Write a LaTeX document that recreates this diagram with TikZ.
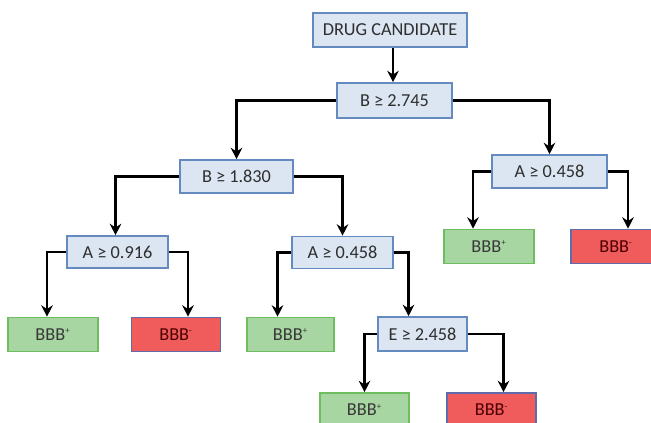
\documentclass[tikz,border=0pt]{standalone}
\usepackage{fontspec}
\setmainfont{Carlito}
\usepackage{xcolor}
\usepackage{tikz}
\usetikzlibrary{arrows.meta}

\definecolor{testfill}{RGB}{220,230,243}
\definecolor{testline}{RGB}{100,138,192}
\definecolor{plusfill}{RGB}{168,214,162}
\definecolor{plusline}{RGB}{110,190,95}
\definecolor{minusfill}{RGB}{240,92,92}
\definecolor{minusline}{RGB}{95,108,172}

\tikzset{
    testbox/.style={draw=testline, fill=testfill, line width=0.9pt, text=black!82,
        font=\fontsize{10.4}{12}\selectfont, minimum height=0.66cm, inner sep=0pt},
    plusbox/.style={draw=plusline, fill=plusfill, line width=0.9pt, text=black!78,
        font=\fontsize{10.4}{12}\selectfont, minimum width=1.8cm, minimum height=0.68cm, inner sep=0pt},
    minusbox/.style={draw=minusline, fill=minusfill, line width=0.9pt, text=red!30!black,
        font=\fontsize{10.4}{12}\selectfont, minimum width=1.78cm, minimum height=0.68cm, inner sep=0pt},
    branch/.style={line width=1.2pt, -{Stealth[length=6.5pt, width=6.5pt]}}
}

\begin{document}
\begin{tikzpicture}[x=0.02cm, y=-0.02cm]
    \useasboundingbox (0, 0) rectangle (651, 422);
    \clip (0, 0) rectangle (651, 422);
    \node [testbox, minimum width=3.08cm, minimum height=0.68cm] (drug) at (390, 30) {DRUG CANDIDATE};
    \node [testbox, minimum width=2.3cm, minimum height=0.7cm] (b2745) at (394.5, 100.5) {B ≥ 2.745};
    \node [testbox, minimum width=2.26cm] (b1830) at (236.5, 176.5) {B ≥ 1.830};
    \node [testbox, minimum width=2.3cm] (a0458r) at (549.5, 171.5) {A ≥ 0.458};
    \node [testbox, minimum width=2.02cm, minimum height=0.64cm] (a0916) at (117.5, 252) {A ≥ 0.916};
    \node [testbox, minimum width=2.02cm, minimum height=0.64cm] (a0458m) at (342.5, 252.5) {A ≥ 0.458};
    \node [testbox, minimum width=1.78cm, minimum height=0.68cm] (e2458) at (422.5, 334) {E ≥ 2.458};
    \node [plusbox] (plusa) at (53, 334.5) {BBB\textsuperscript{\tiny+}};
    \node [minusbox] (minusa) at (176, 334.5) {BBB\textsuperscript{\tiny-}};
    \node [plusbox, minimum width=1.74cm] (plusb) at (290.5, 334.5) {BBB\textsuperscript{\tiny+}};
    \node [plusbox] (plusd) at (489, 246.5) {BBB\textsuperscript{\tiny+}};
    \node [minusbox, minimum width=1.8cm] (minusd) at (616, 246.5) {BBB\textsuperscript{\tiny-}};
    \node [plusbox, minimum width=1.78cm] (plusc) at (364.5, 410) {BBB\textsuperscript{\tiny+}};
    \node [minusbox] (minusc) at (491.5, 410) {BBB\textsuperscript{\tiny-}};

    \draw [branch] ([xshift=0.06cm]drug.south) -- ([xshift=0.06cm]drug.south |- b2745.north);
    \draw [branch] (b2745.west) -| (b1830.north);
    \draw [branch] (b2745.east) -| (a0458r.north);
    \draw [branch] (b1830.west) -| ([xshift=-0.04cm]a0916.north);
    \draw [branch] (b1830.east) -| (a0458m.north);
    \draw [branch] (a0916.west) -| ([xshift=-0.12cm]plusa.north);
    \draw [branch] (a0916.east) -| ([xshift=0.24cm]minusa.north);
    \draw [branch] (a0458m.west) -| ([xshift=-0.26cm]plusb.north);
    \draw [branch] (a0458m.east) -| ([xshift=-0.28cm]e2458.north);
    \draw [branch] (e2458.west) -| (plusc.north);
    \draw [branch] (e2458.east) -| ([xshift=0.24cm]minusc.north);
    \draw [branch] (a0458r.west) -| ([xshift=-0.32cm]plusd.north);
    \draw [branch] (a0458r.east) -| ([xshift=0.24cm]minusd.north);

\end{tikzpicture}
\end{document}
